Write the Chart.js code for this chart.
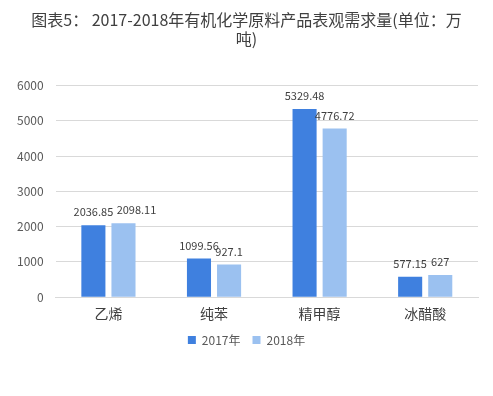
<!DOCTYPE html>
<html>
<head>
<meta charset="utf-8">
<script src="https://cdn.jsdelivr.net/npm/chart.js@4"></script>
<style>
  body { margin: 0; background: #fff; }
  #wrap { width: 493px; height: 396px; }
</style>
</head>
<body>
<div id="wrap"><canvas id="myChart" width="493" height="396"></canvas></div>
<script>
const categorias = ['乙烯', '纯苯', '精甲醇', '冰醋酸'];
const serie2017 = [2036.85, 1099.56, 5329.48, 577.15];
const serie2018 = [2098.11, 927.1, 4776.72, 627];
const ticksY = [0, 1000, 2000, 3000, 4000, 5000, 6000];

const fuente = "'Noto Sans CJK SC', 'Noto Sans', sans-serif";

// etiquetas encima de cada barra
const etiquetas = {
  id: 'etiquetas',
  afterDatasetsDraw(chart, args, opts) {
    const ctx = chart.ctx;
    ctx.save();
    ctx.font = '11px ' + fuente;
    ctx.fillStyle = '#404040';
    ctx.textAlign = 'center';
    ctx.textBaseline = 'middle';
    chart.data.datasets.forEach((ds, i) => {
      chart.getDatasetMeta(i).data.forEach((bar, j) => {
        const shift = (opts.shift[i] && opts.shift[i][j]) || 0;
        ctx.fillText(String(ds.data[j]), bar.x + shift, bar.y - 13);
      });
    });
    ctx.restore();
  }
};

const grafico = document.getElementById('myChart');
new Chart(grafico, {
  type: 'bar',
  data: {
    labels: categorias,
    datasets: [{
      label: '2017年',
      data: serie2017,
      backgroundColor: '#3F80DF',
      barPercentage: 0.8,
      categoryPercentage: 0.57
    },
    {
      label: '2018年',
      data: serie2018,
      backgroundColor: '#9BC1F0',
      barPercentage: 0.8,
      categoryPercentage: 0.57
    }]
  },
  plugins: [etiquetas],
  options: {
    responsive: false,
    animation: false,
    layout: { padding: { left: 15, right: 15, top: 0, bottom: 40 } },
    plugins: {
      etiquetas: { shift: [[0, 0, 0, 0], [13, 0, 0, 0]] },
      title: {
        display: true,
        text: ['图表5： 2017-2018年有机化学原料产品表观需求量(单位：万', '吨)'],
        color: '#404040',
        font: { size: 16, weight: 'normal', family: fuente },
        lineHeight: 1.1,
        padding: { top: 10, bottom: 37 }
      },
      legend: {
        position: 'bottom',
        labels: {
          color: '#595959',
          font: { size: 12, family: fuente },
          boxWidth: 8,
          boxHeight: 8,
          padding: 12
        }
      },
      tooltip: { enabled: false }
    },
    scales: {
      y: {
        min: 0,
        max: 6000,
        afterBuildTicks: axis => { axis.ticks = ticksY.map(v => ({ value: v })); },
        border: { display: false },
        grid: { color: '#D9D9D9', drawTicks: true, tickLength: 10, tickColor: 'rgba(0,0,0,0)' },
        ticks: { color: '#595959', font: { size: 12, family: fuente }, padding: 2, callback: v => String(v) }
      },
      x: {
        border: { color: '#D9D9D9' },
        grid: { display: false },
        ticks: { color: '#404040', font: { size: 14, family: fuente }, padding: 0 }
      }
    }
  }
});
</script>
</body>
</html>
